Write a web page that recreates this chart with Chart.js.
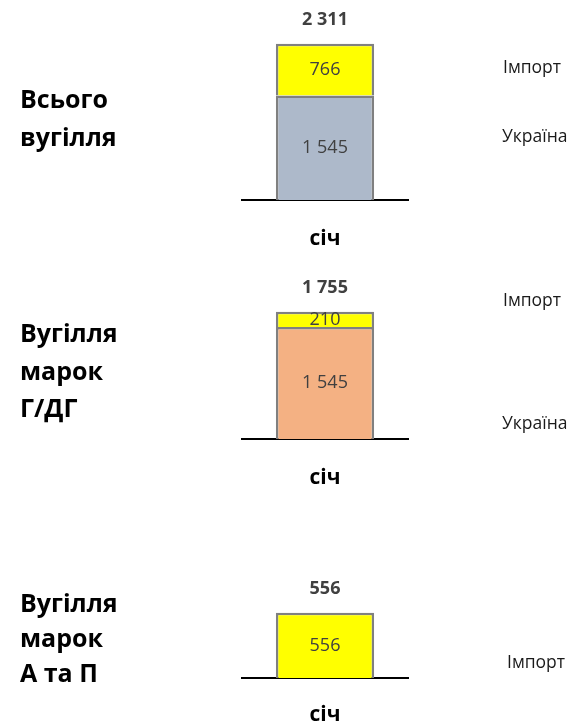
<!DOCTYPE html>
<html>
<head>
<meta charset="utf-8">
<script src="https://cdn.jsdelivr.net/npm/chart.js"></script>
<style>
  html, body { margin: 0; padding: 0; background: #fff; width: 573px; height: 726px; overflow: hidden; position: relative; font-family: "Open Sans", sans-serif; }
  canvas { position: absolute; left: 0; }
  .lbl { position: absolute; font-weight: bold; font-size: 25px; color: #000; white-space: nowrap; }
  .ser { position: absolute; font-size: 17.5px; line-height: 20px; color: #1a1a1a; white-space: nowrap; }
</style>
</head>
<body>
<canvas id="c1" width="573" height="250" style="top:0px"></canvas>
<canvas id="c2" width="573" height="229" style="top:260px"></canvas>
<canvas id="c3" width="573" height="166" style="top:560px"></canvas>

<div class="lbl" style="left:20px; top:79px; line-height:38px">Всього<br>вугілля</div>
<div class="lbl" style="left:20px; top:314px; line-height:37.5px">Вугілля<br>марок<br>Г/ДГ</div>
<div class="lbl" style="left:20px; top:585px; line-height:35px">Вугілля<br>марок<br>А та П</div>

<div class="ser" style="left:503px; top:56px">Імпорт</div>
<div class="ser" style="left:502px; top:125px">Україна</div>
<div class="ser" style="left:503px; top:289px">Імпорт</div>
<div class="ser" style="left:502px; top:412px">Україна</div>
<div class="ser" style="left:507px; top:651px">Імпорт</div>

<script>
// ---- Data ----
const months = ['січ'];
const allUkraine = [1545];
const allImport = [766];
const gdgUkraine = [1545];
const gdgImport = [210];
const apImport = [556];

const seriesNames = ['Україна', 'Імпорт'];

// ---- Helpers ----
function fmt(v) {
  return String(v).replace(/\B(?=(\d{3})+(?!\d))/g, ' ');
}

const valueLabels = {
  id: 'valueLabels',
  afterDatasetsDraw(chart) {
    const ctx = chart.ctx;
    ctx.save();
    ctx.textAlign = 'center';
    ctx.textBaseline = 'middle';
    const n = chart.data.labels.length;
    for (let i = 0; i < n; i++) {
      let total = 0;
      let topY = Infinity;
      let x = 0;
      chart.data.datasets.forEach((ds, di) => {
        const meta = chart.getDatasetMeta(di);
        const el = meta.data[i];
        if (!el) return;
        const v = ds.data[i];
        total += v;
        x = el.x;
        topY = Math.min(topY, el.y);
        ctx.font = '18px "Open Sans"';
        ctx.fillStyle = '#404040';
        ctx.fillText(fmt(v), el.x, (el.y + el.base) / 2);
      });
      ctx.font = 'bold 18px "Open Sans"';
      ctx.fillStyle = '#404040';
      ctx.fillText(fmt(total), x, topY - 24);
    }
    ctx.restore();
  }
};

function makeChart(id, datasets, yMax, padTop, axisH, tickPad) {
  return new Chart(document.getElementById(id), {
    type: 'bar',
    data: { labels: months, datasets: datasets },
    options: {
      responsive: false,
      animation: false,
      devicePixelRatio: 1,
      layout: { padding: { left: 242, right: 165, top: padTop, bottom: 0 } },
      plugins: { legend: { display: false }, tooltip: { enabled: false } },
      datasets: { bar: { barPercentage: 0.592, categoryPercentage: 1 } },
      scales: {
        x: {
          stacked: true,
          grid: { display: false, drawTicks: false },
          border: { display: true, color: '#000', width: 2 },
          ticks: { color: '#000', padding: tickPad, font: { family: 'Open Sans', size: 21, weight: 'bold' } },
          afterFit: (s) => { s.height = axisH; }
        },
        y: {
          stacked: true,
          display: false,
          min: 0,
          max: yMax
        }
      }
    },
    plugins: [valueLabels]
  });
}

const border = '#808080';

makeChart('c1', [
  { label: seriesNames[0], data: allUkraine, backgroundColor: '#ADB9CA', borderColor: border, borderWidth: 2.5 },
  { label: seriesNames[1], data: allImport, backgroundColor: '#FFFF00', borderColor: border, borderWidth: 2.5 }
], 2500, 31, 50, 26);

makeChart('c2', [
  { label: seriesNames[0], data: gdgUkraine, backgroundColor: '#F4B183', borderColor: border, borderWidth: 2.5 },
  { label: seriesNames[1], data: gdgImport, backgroundColor: '#FFFF00', borderColor: border, borderWidth: 2.5 }
], 2000, 34, 50, 26);

makeChart('c3', [
  { label: seriesNames[1], data: apImport, backgroundColor: '#FFFF00', borderColor: border, borderWidth: 2.5 }
], 700, 36, 48, 24);
</script>
</body>
</html>
